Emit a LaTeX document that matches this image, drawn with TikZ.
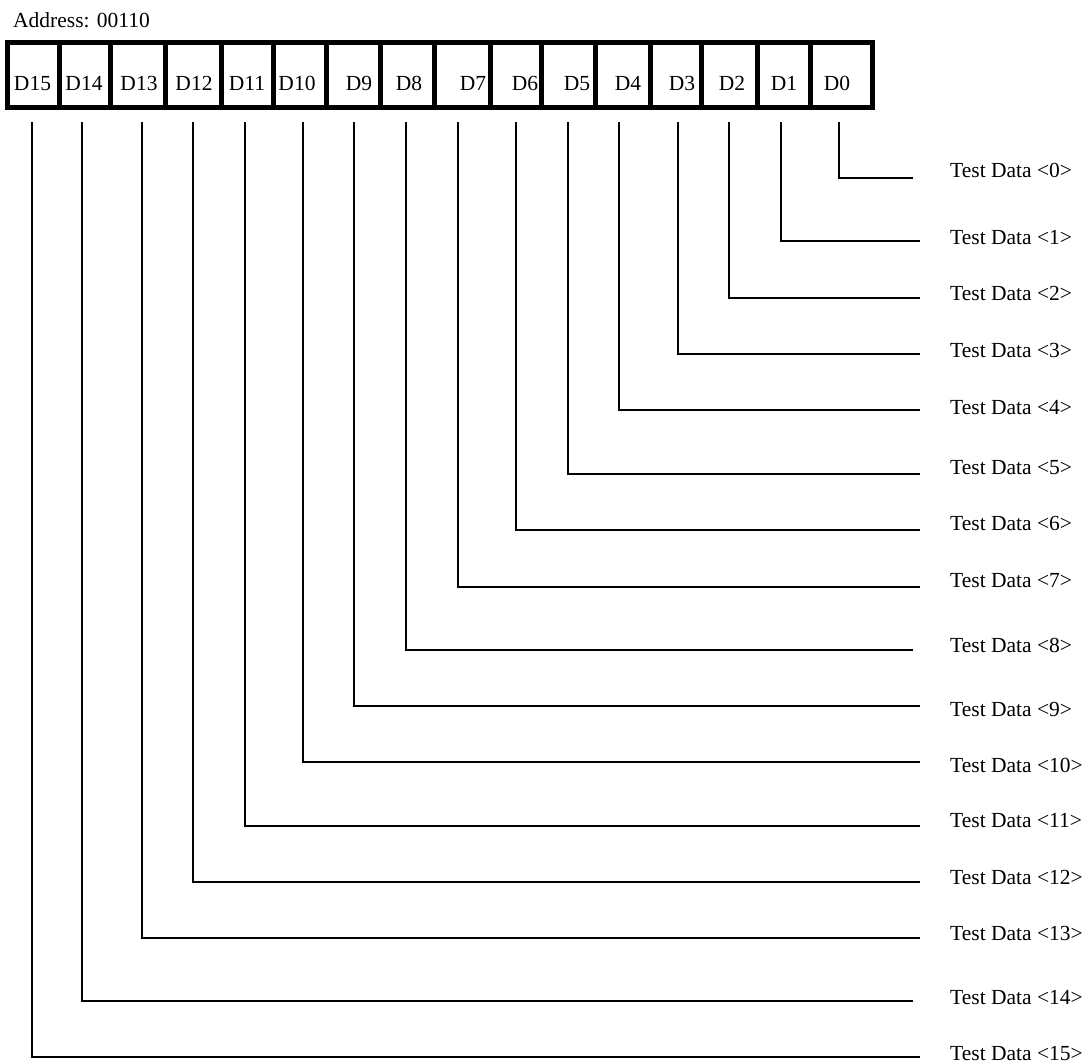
\documentclass[tikz,border=0pt]{standalone}
\usepackage{fontspec}
\setmainfont{Liberation Serif}
\usepackage{tikz}

\begin{document}
\begin{tikzpicture}[x=1pt,y=-1pt,
  regbox/.style={line width=5pt},
  wire/.style={line width=2pt},
  bitlbl/.style={anchor=base,inner sep=0pt,font=\fontsize{21.5}{24}\selectfont},
  outlbl/.style={anchor=base west,inner sep=0pt,font=\fontsize{21.5}{24}\selectfont}]
\useasboundingbox (0,0) rectangle (1092,1063);
\node[outlbl] (addr) at (13,27) {Address: 00110};
% register
\draw[regbox] (7.5,42) rectangle (872,107.5);
\draw[regbox] (59,42) -- (59,107.5); \draw[regbox] (110.5,42) -- (110.5,107.5);
\draw[regbox] (165.5,42) -- (165.5,107.5); \draw[regbox] (221.5,42) -- (221.5,107.5);
\draw[regbox] (273.5,42) -- (273.5,107.5); \draw[regbox] (326.5,42) -- (326.5,107.5);
\draw[regbox] (380.5,42) -- (380.5,107.5); \draw[regbox] (434,42) -- (434,107.5);
\draw[regbox] (490,42) -- (490,107.5); \draw[regbox] (541.5,42) -- (541.5,107.5);
\draw[regbox] (595,42) -- (595,107.5); \draw[regbox] (650,42) -- (650,107.5);
\draw[regbox] (701.5,42) -- (701.5,107.5); \draw[regbox] (757,42) -- (757,107.5);
\draw[regbox] (810,42) -- (810,107.5);
\node[bitlbl] (D15) at (32.5,90) {D15};
\node[bitlbl] (D14) at (84,90) {D14};
\node[bitlbl] (D13) at (139,90) {D13};
\node[bitlbl] (D12) at (194,90) {D12};
\node[bitlbl] (D11) at (247,90) {D11};
\node[bitlbl] (D10) at (297,90) {D10};
\node[bitlbl] (D9) at (359,90) {D9};
\node[bitlbl] (D8) at (409,90) {D8};
\node[bitlbl] (D7) at (473,90) {D7};
\node[bitlbl] (D6) at (525,90) {D6};
\node[bitlbl] (D5) at (577,90) {D5};
\node[bitlbl] (D4) at (628,90) {D4};
\node[bitlbl] (D3) at (682,90) {D3};
\node[bitlbl] (D2) at (732,90) {D2};
\node[bitlbl] (D1) at (784,90) {D1};
\node[bitlbl] (D0) at (837,90) {D0};
% outputs
\node[outlbl] (T0) at (950,177) {Test Data <0>};
\node[outlbl] (T1) at (950,244) {Test Data <1>};
\node[outlbl] (T2) at (950,300) {Test Data <2>};
\node[outlbl] (T3) at (950,357) {Test Data <3>};
\node[outlbl] (T4) at (950,414) {Test Data <4>};
\node[outlbl] (T5) at (950,474) {Test Data <5>};
\node[outlbl] (T6) at (950,530) {Test Data <6>};
\node[outlbl] (T7) at (950,587) {Test Data <7>};
\node[outlbl] (T8) at (950,652) {Test Data <8>};
\node[outlbl] (T9) at (950,716) {Test Data <9>};
\node[outlbl] (T10) at (950,772) {Test Data <10>};
\node[outlbl] (T11) at (950,827) {Test Data <11>};
\node[outlbl] (T12) at (950,884) {Test Data <12>};
\node[outlbl] (T13) at (950,940) {Test Data <13>};
\node[outlbl] (T14) at (950,1004) {Test Data <14>};
\node[outlbl] (T15) at (950,1060) {Test Data <15>};
% wires
\coordinate (s0) at (839,122); \coordinate (e0) at (913,178);
\coordinate (s1) at (781,122); \coordinate (e1) at (920,241);
\coordinate (s2) at (729,122); \coordinate (e2) at (920,298);
\coordinate (s3) at (678,122); \coordinate (e3) at (920,354);
\coordinate (s4) at (619,122); \coordinate (e4) at (920,410);
\coordinate (s5) at (568,122); \coordinate (e5) at (920,474);
\coordinate (s6) at (516,122); \coordinate (e6) at (920,530);
\coordinate (s7) at (458,122); \coordinate (e7) at (920,587);
\coordinate (s8) at (406,122); \coordinate (e8) at (913,650);
\coordinate (s9) at (354,122); \coordinate (e9) at (920,706);
\coordinate (s10) at (303,122); \coordinate (e10) at (920,762);
\coordinate (s11) at (245,122); \coordinate (e11) at (920,826);
\coordinate (s12) at (193,122); \coordinate (e12) at (920,882);
\coordinate (s13) at (142,122); \coordinate (e13) at (920,938);
\coordinate (s14) at (82,122); \coordinate (e14) at (913,1001);
\coordinate (s15) at (32,122); \coordinate (e15) at (920,1057);
\draw[wire] (s0) |- (e0); \draw[wire] (s1) |- (e1);
\draw[wire] (s2) |- (e2); \draw[wire] (s3) |- (e3);
\draw[wire] (s4) |- (e4); \draw[wire] (s5) |- (e5);
\draw[wire] (s6) |- (e6); \draw[wire] (s7) |- (e7);
\draw[wire] (s8) |- (e8); \draw[wire] (s9) |- (e9);
\draw[wire] (s10) |- (e10); \draw[wire] (s11) |- (e11);
\draw[wire] (s12) |- (e12); \draw[wire] (s13) |- (e13);
\draw[wire] (s14) |- (e14); \draw[wire] (s15) |- (e15);
\end{tikzpicture}
\end{document}
